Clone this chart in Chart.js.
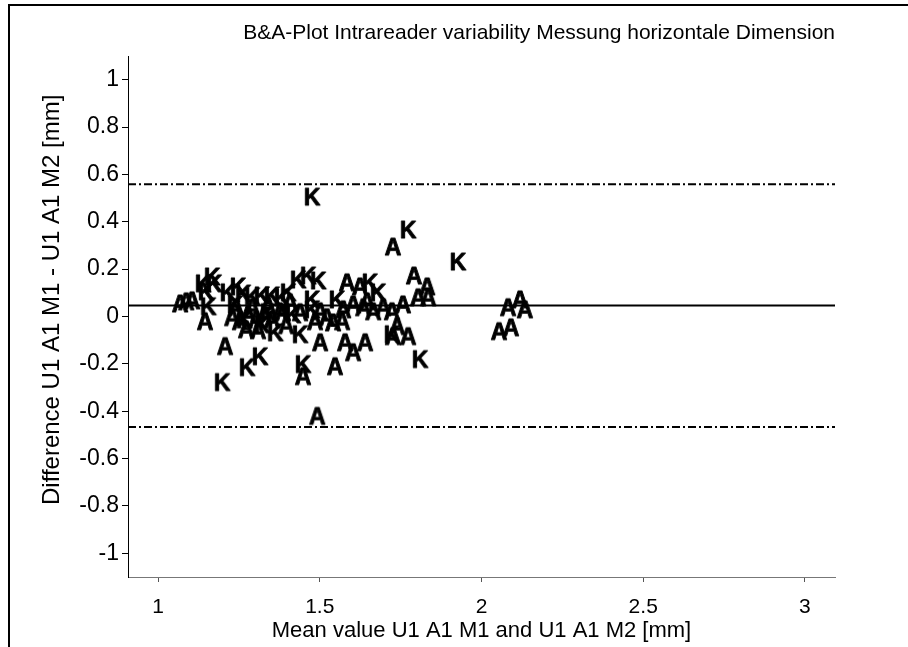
<!DOCTYPE html>
<html><head><meta charset="utf-8">
<script src="https://cdn.jsdelivr.net/npm/chart.js@4.4.1/dist/chart.umd.min.js"></script>
<style>
html,body{margin:0;padding:0;background:#fff;}
#wrap{position:relative;width:908px;height:647px;overflow:hidden;}
#frame{position:absolute;left:8px;top:4px;width:1000px;height:1000px;border-left:2px solid #000;border-top:2px solid #000;}
canvas{position:absolute;left:0;top:0;}
</style></head><body>
<div id="wrap"><div id="frame"></div><canvas id="c" width="908" height="647"></canvas></div>
<script>
const titleText = "B&A-Plot Intrareader variability Messung horizontale Dimension";
const xLabel = "Mean value U1 A1 M1 and U1 A1 M2 [mm]";
const yLabel = "Difference U1 A1 M1 - U1 A1 M2 [mm]";
const xTicks = [1, 1.5, 2, 2.5, 3];
const yTicks = [-1, -0.8, -0.6, -0.4, -0.2, 0, 0.2, 0.4, 0.6, 0.8, 1];
const xRange = [0.907, 3.093];
const yRange = [-1.1, 1.1];

// Reader "A" points: mean value (x) and difference (y)
const meanA = [1.068,1.087,1.105,1.145,1.207,1.229,1.253,1.278,1.303,1.328,1.352,1.377,1.241,1.291,1.340,1.386,1.501,1.522,1.569,1.501,1.578,1.603,1.640,1.541,1.448,1.547,1.492,1.584,1.624,1.726,1.791,1.832,1.804,1.835,1.757,1.739,1.773,1.726,1.603,1.634,1.665,1.696,1.723,1.572,1.646,2.054,2.091,2.082,2.119,2.134,1.439,1.485,1.408,1.272,1.396,1.309];
const diffA = [0.053,0.062,0.066,-0.022,-0.127,-0.005,-0.022,0.007,-0.014,0.003,-0.014,0.020,0.037,0.037,0.045,0.016,0.020,-0.005,-0.022,-0.111,-0.111,-0.153,-0.111,-0.027,-0.254,-0.212,-0.422,0.142,0.125,0.293,0.171,0.125,0.079,0.079,0.049,-0.043,-0.085,-0.085,0.049,0.037,0.020,0.037,0.020,0.028,0.062,-0.064,-0.048,0.037,0.070,0.028,0.016,-0.022,0.058,-0.056,-0.039,-0.060];

// Reader "K" points
const meanK = [1.167,1.139,1.173,1.148,1.155,1.198,1.275,1.315,1.216,1.247,1.263,1.291,1.321,1.352,1.383,1.266,1.321,1.362,1.433,1.464,1.495,1.476,1.773,1.927,1.655,1.680,1.553,1.476,1.476,1.417,1.439,1.448,1.723,1.810,1.238,1.340,1.402];
const diffK = [0.167,0.138,0.138,0.104,0.041,-0.279,-0.216,-0.170,0.100,0.125,0.095,0.083,0.087,0.087,0.079,-0.014,-0.035,-0.069,0.154,0.171,0.150,0.504,0.365,0.230,0.142,0.100,0.070,0.070,0.028,0.007,-0.077,-0.203,-0.077,-0.182,0.049,0.016,0.100];

const meanDiff = 0.046;
const upperLoA = 0.558;
const lowerLoA = -0.467;

const FONT = '"Liberation Sans", Arial, Helvetica, sans-serif';

function letterCanvas(ch) {
  const size = 23;
  const c = document.createElement('canvas');
  c.width = 32; c.height = 32;
  const g = c.getContext('2d');
  g.fillStyle = '#000';
  g.strokeStyle = '#000';
  g.lineWidth = 0.9;
  g.lineJoin = 'round';
  g.font = 'bold ' + size + 'px ' + FONT;
  g.textAlign = 'center';
  g.textBaseline = 'alphabetic';
  const by = 16 + 0.716 * size / 2;
  g.fillText(ch, 16, by);
  g.strokeText(ch, 16, by);
  return c;
}
const markA = letterCanvas('A');
const markK = letterCanvas('K');

function hLine(y) {
  return [{x: xRange[0], y: y}, {x: xRange[1], y: y}];
}

new Chart(document.getElementById('c'), {
  type: 'scatter',
  data: {
    datasets: [
      {label: 'A', data: meanA.map((x, i) => ({x: x, y: diffA[i]})), pointStyle: markA, pointRadius: 8, pointHoverRadius: 8},
      {label: 'K', data: meanK.map((x, i) => ({x: x, y: diffK[i]})), pointStyle: markK, pointRadius: 8, pointHoverRadius: 8},
      {type: 'line', label: 'mean', data: hLine(meanDiff), borderColor: '#000', borderWidth: 2, pointRadius: 0, fill: false},
      {type: 'line', label: 'upper', data: hLine(upperLoA), borderColor: '#000', borderWidth: 2, borderDash: [8, 3, 2, 3], pointRadius: 0, fill: false},
      {type: 'line', label: 'lower', data: hLine(lowerLoA), borderColor: '#000', borderWidth: 2, borderDash: [8, 3, 2, 3], pointRadius: 0, fill: false}
    ]
  },
  options: {
    responsive: false,
    animation: false,
    devicePixelRatio: 1,
    layout: {padding: {top: 10, right: 73, bottom: 0, left: 0}},
    plugins: {
      legend: {display: false},
      tooltip: {enabled: false},
      title: {
        display: true, text: titleText, fullSize: false, align: 'end', color: '#000',
        font: {family: FONT, size: 21, weight: 'normal', lineHeight: 1.2},
        padding: {top: 10.4, bottom: 10.4}
      }
    },
    scales: {
      x: {
        type: 'linear', position: 'bottom', min: xRange[0], max: xRange[1],
        afterBuildTicks: s => { s.ticks = xTicks.map(v => ({value: v})); },
        afterFit: s => { s.height = 70; },
        grid: {drawOnChartArea: false, drawTicks: true, tickLength: 5, color: '#555'},
        border: {display: true, color: '#777', width: 1},
        ticks: {color: '#000', padding: 12.5, font: {family: FONT, size: 21}, callback: v => String(v)},
        title: {display: true, text: xLabel, color: '#000', font: {family: FONT, size: 22, lineHeight: 1.2}, padding: {top: 0, bottom: 3}}
      },
      y: {
        type: 'linear', position: 'left', min: yRange[0], max: yRange[1],
        afterBuildTicks: s => { s.ticks = yTicks.map(v => ({value: v})); },
        afterFit: s => { s.width = 128; },
        grid: {drawOnChartArea: false, drawTicks: true, tickLength: 6, color: '#000'},
        border: {display: true, color: '#000', width: 1},
        ticks: {color: '#000', padding: 3, font: {family: FONT, size: 23}, callback: v => String(v)},
        title: {display: true, text: '     ' + yLabel, color: '#000', font: {family: FONT, size: 24, lineHeight: 1.2}, padding: {top: 37.6, bottom: 0}}
      }
    }
  }
});
</script>
</body></html>
